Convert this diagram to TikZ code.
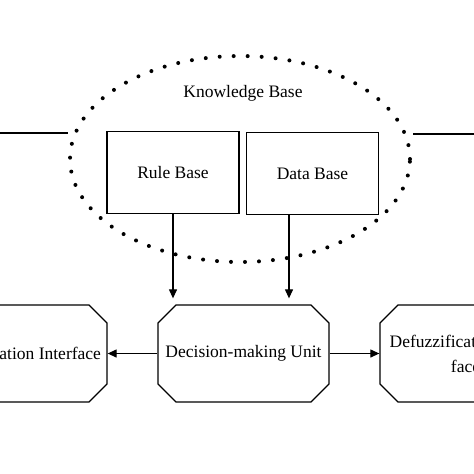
\documentclass[tikz,border=0pt]{standalone}
\usepackage{fontspec}
\setmainfont{Liberation Serif}
\usetikzlibrary{shapes.misc,shapes.geometric,arrows.meta}
\begin{document}
\begin{tikzpicture}[x=1pt,y=-1pt]
		\tikzset{box/.style = {draw, line width=1.3pt, minimum width=132pt, minimum height=82pt, inner sep=0pt, font=\fontsize{17.5}{25}\selectfont},
			unit/.style = {chamfered rectangle, chamfered rectangle xsep=9pt, chamfered rectangle ysep=9pt, draw, line width=1.3pt, inner xsep=76.5pt, inner ysep=39.5pt},
			label/.style = {align=center, font=\fontsize{17.5}{25}\selectfont},
			arr/.style = {-{Triangle[width=8pt,length=9pt]}, line width=1.2pt}}
		\useasboundingbox (0,0) rectangle (474,474);
		\clip (0,0) rectangle (474,474);
		% Draw knowledge base
		\node[ellipse, draw, line width=4pt, line cap=round, dash pattern=on 0pt off 14pt, minimum width=340pt, minimum height=206pt] (KB) at (240,159) {};
		\node[label] (KBT) at (243,93) {Knowledge Base};
		\node[box] (RB) at (173,172.5) {Rule Base};
		\node[box] (DB) at (312.5,173.5) {Data Base};
		% Draw units
		\node[unit] (DM) at (243.5,353.5) {};
		\node[unit] (FI) at (21.5,353.5) {};
		\node[unit] (DF) at (465.5,353.5) {};
		\node[label] (DMT) at (DM) {Decision-making Unit};
		\node[label] (FIT) at (FI) {Fuzzification Interface};
		\node[label] (DFT) at (DF) {Defuzzification Inter-\\face};
		\draw[arr, shorten >=6pt] (RB.south) -- (RB.south |- DM.north);
		\draw[arr, shorten >=6pt] ([xshift=-23.5pt]DB.south) -- ([xshift=-23.5pt]DB.south |- DM.north);
		\draw[arr] (DM.west) -- (FI.east);
		\draw[arr] (DM.east) -- (DF.west);
		\coordinate (L1) at (-10,133);
		\coordinate (L2) at (68,133);
		\coordinate (R1) at (413,134);
		\coordinate (R2) at (484,134);
		\draw[line width=1.2pt] (L1) -- (L2);
		\draw[line width=1.2pt] (R1) -- (R2);
	\end{tikzpicture}
\end{document}
